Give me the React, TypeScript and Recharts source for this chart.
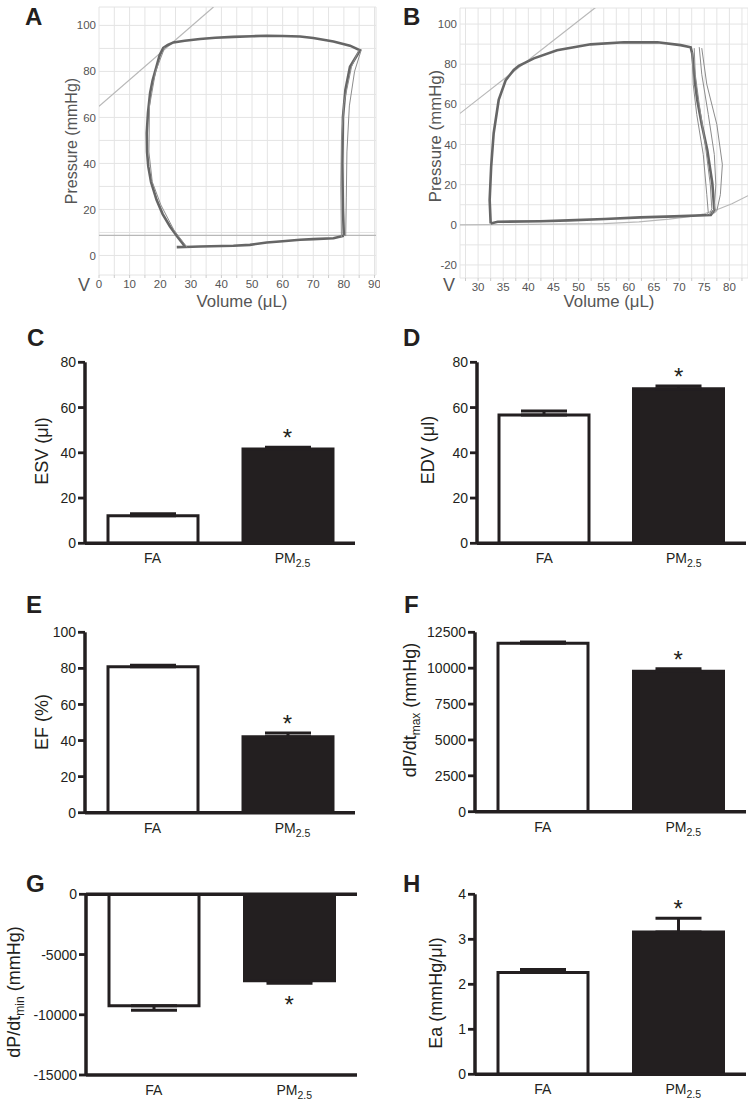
import React from "react";
import {
    BarChart,
    Bar,
    Cell,
    XAxis,
    YAxis,
    ErrorBar,
    ReferenceDot,
    ReferenceLine,
    ScatterChart,
    Scatter,
    CartesianGrid,
} from "recharts";

const INK = "#231f20";
const FONT = '"Liberation Sans", Arial, sans-serif';

// groups shared by all bar panels
const groups = ["FA", "PM2.5"];
const significant = [false, true];

// bar panels: mean and SEM per group
const esvMean = [12.2, 41.7];
const esvSem = [0.9, 0.7];
const edvMean = [56.7, 68.3];
const edvSem = [1.8, 1.2];
const efMean = [80.9, 42.1];
const efSem = [0.8, 2.1];
const dpMaxMean = [11733, 9783];
const dpMaxSem = [91, 181];
const dpMinMean = [-9247, -7172];
const dpMinSem = [383, 216];
const eaMean = [2.26, 3.16];
const eaSem = [0.07, 0.31];

// tick labels
const esvTicks = [0, 20, 40, 60, 80];
const efTicks = [0, 20, 40, 60, 80, 100];
const dpMaxTicks = [0, 2500, 5000, 7500, 10000, 12500];
const dpMinTicks = [-15000, -10000, -5000, 0];
const eaTicks = [0, 1, 2, 3, 4];

const pvATicksX = [0, 5, 10, 15, 20, 25, 30, 35, 40, 45, 50, 55, 60, 65, 70, 75, 80, 85, 90];
const pvATicksY = [0, 10, 20, 30, 40, 50, 60, 70, 80, 90, 100];
const pvBTicksX = [27.5, 30, 32.5, 35, 37.5, 40, 42.5, 45, 47.5, 50, 52.5, 55, 57.5, 60, 62.5, 65, 67.5, 70, 72.5, 75, 77.5, 80, 82.5];
const pvBTicksY = [-20, -10, 0, 10, 20, 30, 40, 50, 60, 70, 80, 90, 100];

// PV loop A (volume uL, pressure mmHg)
const loopA: number[][] = [
    [80, 8.6], [79.7, 20], [79.5, 40], [79.7, 60], [80.5, 72], [82, 82], [85.3, 89.2],
    [82, 91.2], [76.6, 93], [70, 94.5], [65.7, 95.2], [60, 95.4], [54.8, 95.5], [50, 95.3],
    [43.9, 95], [38, 94.6], [33, 94.1], [28, 93.3], [24.3, 92.6], [22.5, 91.5], [21, 90.2],
    [19.8, 87], [18.8, 82.2], [17.5, 76], [16.7, 70.6], [16, 62], [15.6, 53.2], [15.7, 45],
    [16.1, 38.7], [17, 32], [18.8, 24.2], [20.8, 18], [23.2, 12.6], [25.8, 7.8], [28.1, 3.9],
    [27, 3.7], [25.4, 3.6], [28, 3.7], [33, 3.9], [43.9, 4.2], [49.3, 4.6], [54.8, 5.6],
    [60, 6.2], [65.7, 6.8], [70, 7.1], [76.6, 7.5], [80, 8.6],
];
const loopARight1 = [[80.6, 8.4], [80.8, 25], [81, 45], [81.8, 65], [83.5, 80], [85.6, 89]];
const loopARight2 = [[79.2, 8], [79, 30], [79.2, 50], [80, 66], [82.5, 82], [85, 89.5]];
const loopALeft1 = [[21.5, 90.5], [18.5, 80], [16.5, 65], [16.3, 45], [17.4, 32], [20.2, 22], [24.5, 11], [28.8, 3.5]];
const esPvrA = [[0, 64.8], [37.4, 108]];
const edpA = [[0, 8.7], [90.5, 8.7]];

// PV loop B
const loopB: number[][] = [
    [32.5, 0.7], [32.3, 12.4], [32.6, 29], [33.1, 45.6], [34.1, 62.2], [35.5, 72.1], [37.1, 77.1],
    [38.1, 79.2], [41.1, 82.9], [45.7, 87], [52.4, 89.9], [59, 90.9], [65.7, 90.9], [70.3, 89.5],
    [72.3, 88.4], [72.6, 85.4], [73.2, 70], [73.6, 62.2], [74.5, 50], [75.6, 37.3], [76.6, 20.7],
    [77, 7.4], [76.3, 4.9], [69, 4.2], [62.3, 3.7], [55.2, 2.9], [48, 2.2], [42.4, 1.8],
    [33.9, 1.5], [32.5, 0.7],
];
const loopBRight1 = [[73, 88], [73.2, 75], [74, 60], [75.2, 40], [76.2, 20], [76.5, 8], [76, 5]];
const loopBRight2 = [[74, 88.5], [74.5, 75], [75.8, 55], [77, 35], [77.3, 20], [77, 8], [76.5, 5.5]];
const loopBRight3 = [[74.5, 88], [75.5, 70], [77.5, 50], [78.6, 30], [78.2, 15], [77.5, 7], [76.8, 5.5]];
const loopBRight4 = [[72.6, 86], [72.8, 70], [73.5, 55], [74.8, 35], [75.5, 15], [75.8, 6], [75.5, 4.8]];
const esPvrB = [[26.4, 55.5], [53.4, 108.3]];
const edPvrB = [[26.4, 0], [35, 0.1], [45, 0.3], [55, 0.6], [62, 1.5], [68, 2.8], [72, 4], [75, 5.5], [78, 8], [80.5, 10.5], [83.7, 14.5]];

const toPts = (arr: number[][]) => arr.map(([v, p]) => ({ v, p }));

const buildRows = (means: number[], sems: number[], down = false) =>
    groups.map((g, i) => ({
        group: g,
        mean: means[i],
        err: down ? [sems[i], 0] : [0, sems[i]],
    }));

const noDot = () => <g />;

function GroupTick(props: any) {
    const { x, y, payload } = props;
    if (payload.value === "PM2.5") {
        return (
            <text x={x} y={y + 20} dx={5} textAnchor="middle" fill={INK} fontSize={14} fontFamily={FONT}>
                PM
                <tspan fontSize={10.5} dy={4}>2.5</tspan>
            </text>
        );
    }
    return (
        <text x={x} y={y + 20} textAnchor="middle" fill={INK} fontSize={14} fontFamily={FONT}>
            {payload.value}
        </text>
    );
}

// y tick: short thick tick mark plus the number
function ValueTick(props: any) {
    const { x, y, payload } = props;
    return (
        <g>
            <line x1={x - 7} y1={y} x2={x} y2={y} stroke={INK} strokeWidth={2.8} />
            <text x={x - 9} y={y} dy="0.36em" textAnchor="end" fill={INK} fontSize={14} fontFamily={FONT}>
                {payload.value}
            </text>
        </g>
    );
}

function BarPanel(props: any) {
    const { left, top, width, height, mt, mr, yw, xh, domain, ticks, means, sems, down } = props;
    const rows = buildRows(means, sems, down);
    return (
        <div style={{ position: "absolute", left, top }}>
            <BarChart
                width={width}
                height={height}
                data={rows}
                margin={{ top: mt, right: mr, bottom: 0, left: 0 }}
                barSize={90}
            >
                <XAxis
                    dataKey="group"
                    height={xh}
                    axisLine={false}
                    tickLine={false}
                    tickSize={0}
                    tickMargin={0}
                    tick={<GroupTick />}
                    interval={0}
                />
                <YAxis
                    width={yw}
                    type="number"
                    domain={domain}
                    ticks={ticks}
                    allowDataOverflow
                    axisLine={false}
                    tickLine={false}
                    tickSize={0}
                    tickMargin={0}
                    tick={<ValueTick />}
                    interval={0}
                />
                <Bar dataKey="mean" stroke={INK} strokeWidth={3} isAnimationActive={false}>
                    {rows.map((r, i) => (
                        <Cell key={r.group} fill={i === 0 ? "#ffffff" : INK} />
                    ))}
                    <ErrorBar dataKey="err" direction="y" width={23} stroke={INK} strokeWidth={3} />
                </Bar>
                <ReferenceLine y={domain[0]} stroke={INK} strokeWidth={3.5} />
                <ReferenceLine x={groups[0]} position="start" stroke={INK} strokeWidth={3.5} />
                {down && <ReferenceLine y={0} stroke={INK} strokeWidth={3.5} />}
                {groups.map((g, i) =>
                    significant[i] ? (
                        <ReferenceDot
                            key={g}
                            x={g}
                            y={down ? means[i] - sems[i] : means[i] + sems[i]}
                            r={1}
                            shape={(p: any) => (
                                <text
                                    x={p.cx}
                                    y={down ? p.cy + 30 : p.cy - 1}
                                    textAnchor="middle"
                                    fontSize={24}
                                    fontFamily={FONT}
                                    fill={INK}
                                >
                                    *
                                </text>
                            )}
                        />
                    ) : null
                )}
            </BarChart>
        </div>
    );
}

function PvPanel(props: any) {
    const { left, top, width, height, mt, mr, yw, xh, xDomain, yDomain, xTicks, yTicks, xEvery, loops, guides } = props;
    const tickStyle = { fill: "#555", fontSize: 11.5, fontFamily: FONT };
    return (
        <div style={{ position: "absolute", left, top }}>
            <ScatterChart width={width} height={height} margin={{ top: mt, right: mr, bottom: 0, left: 0 }}>
                <CartesianGrid stroke="#e4e4e4" strokeWidth={1} />
                <XAxis
                    type="number"
                    dataKey="v"
                    domain={xDomain}
                    ticks={xTicks}
                    allowDataOverflow
                    height={xh}
                    axisLine={false}
                    tickLine={{ stroke: "#ccc" }}
                    tickSize={3}
                    tickMargin={2}
                    interval={0}
                    tick={tickStyle}
                    tickFormatter={(v: number) => (v % xEvery === 0 ? String(v) : "")}
                />
                <YAxis
                    type="number"
                    dataKey="p"
                    domain={yDomain}
                    ticks={yTicks}
                    allowDataOverflow
                    width={yw}
                    axisLine={false}
                    tickLine={false}
                    tickSize={0}
                    tickMargin={3}
                    interval={0}
                    tick={tickStyle}
                    tickFormatter={(v: number) => (v % 20 === 0 ? String(v) : "")}
                />
                {guides.map((g: number[][], i: number) => (
                    <Scatter
                        key={"g" + i}
                        data={toPts(g)}
                        line={{ stroke: "#b8b8b8", strokeWidth: 1.2 }}
                        shape={noDot}
                        isAnimationActive={false}
                    />
                ))}
                {loops.map((l: number[][], i: number) => (
                    <Scatter
                        key={"l" + i}
                        data={toPts(l)}
                        line={{
                            stroke: i === 0 ? "#666666" : "#8c8c8c",
                            strokeWidth: i === 0 ? 2.6 : 1,
                        }}
                        shape={noDot}
                        isAnimationActive={false}
                    />
                ))}
            </ScatterChart>
        </div>
    );
}

function Labels() {
    const letter = { fontSize: 24, fontWeight: 700, fill: INK, fontFamily: FONT };
    const title = { fontSize: 18, fill: INK, fontFamily: FONT, textAnchor: "middle" as const };
    const pvTitle = { fontSize: 16, fill: "#555", fontFamily: FONT, textAnchor: "middle" as const };
    return (
        <svg
            width={748}
            height={1104}
            style={{ position: "absolute", left: 0, top: 0, pointerEvents: "none" }}
        >
            <text x={25} y={25} {...letter}>A</text>
            <text x={403} y={25} {...letter}>B</text>
            <text x={27} y={346} {...letter}>C</text>
            <text x={403} y={346} {...letter}>D</text>
            <text x={26} y={613} {...letter}>E</text>
            <text x={404} y={613} {...letter}>F</text>
            <text x={26} y={892} {...letter}>G</text>
            <text x={403} y={892} {...letter}>H</text>

            <text x={77} y={141} transform="rotate(-90 77 141)" {...pvTitle}>Pressure (mmHg)</text>
            <text x={441} y={136} transform="rotate(-90 441 136)" {...pvTitle} fontSize={16.8}>Pressure (mmHg)</text>
            <text x={242} y={307} {...pvTitle} fontSize={16.8}>Volume (μL)</text>
            <text x={609} y={307} {...pvTitle} fontSize={16.8}>Volume (μL)</text>
            <text x={84} y={291} {...pvTitle} fontSize={18}>V</text>
            <text x={449} y={291} {...pvTitle} fontSize={18}>V</text>

            <text x={48} y={451} transform="rotate(-90 48 451)" {...title}>ESV (μl)</text>
            <text x={434} y={450} transform="rotate(-90 434 450)" {...title}>EDV (μl)</text>
            <text x={48} y={722} transform="rotate(-90 48 722)" {...title}>EF (%)</text>
            <text x={416} y={710} transform="rotate(-90 416 710)" {...title}>
                dP/dt<tspan fontSize={12} dy={4}>max</tspan>
                <tspan dy={-4}> (mmHg)</tspan>
            </text>
            <text x={20} y={992} transform="rotate(-90 20 992)" {...title}>
                dP/dt<tspan fontSize={12} dy={4}>min</tspan>
                <tspan dy={-4}> (mmHg)</tspan>
            </text>
            <text x={442} y={993} transform="rotate(-90 442 993)" {...title}>Ea (mmHg/μl)</text>
        </svg>
    );
}

export default function App() {
    return (
        <div
            style={{
                position: "absolute",
                left: 0,
                top: 0,
                width: 748,
                height: 1104,
                background: "#ffffff",
                fontFamily: FONT,
                overflow: "hidden",
            }}
        >
            <PvPanel
                left={0}
                top={0}
                width={380}
                height={300}
                mt={7}
                mr={4}
                yw={99}
                xh={25}
                xDomain={[0, 90.5]}
                yDomain={[-8.5, 108]}
                xTicks={pvATicksX}
                yTicks={pvATicksY}
                xEvery={10}
                guides={[esPvrA, edpA]}
                loops={[loopA, loopARight1, loopARight2, loopALeft1]}
            />
            <PvPanel
                left={374}
                top={0}
                width={374}
                height={300}
                mt={8}
                mr={0}
                yw={86}
                xh={22}
                xDomain={[26.4, 83.7]}
                yDomain={[-26.5, 108]}
                xTicks={pvBTicksX}
                yTicks={pvBTicksY}
                xEvery={5}
                guides={[esPvrB, edPvrB]}
                loops={[loopB, loopBRight1, loopBRight2, loopBRight3, loopBRight4]}
            />
            <BarPanel left={0} top={300} width={374} height={270} mt={62.3} mr={19} yw={85} xh={26.7}
                domain={[0, 80]} ticks={esvTicks} means={esvMean} sems={esvSem} />
            <BarPanel left={374} top={300} width={374} height={270} mt={62.3} mr={2} yw={103} xh={26.7}
                domain={[0, 80]} ticks={esvTicks} means={edvMean} sems={edvSem} />
            <BarPanel left={0} top={570} width={374} height={280} mt={62.3} mr={19} yw={85} xh={37.3}
                domain={[0, 100]} ticks={efTicks} means={efMean} sems={efSem} />
            <BarPanel left={374} top={570} width={374} height={280} mt={62.3} mr={2} yw={101} xh={38.3}
                domain={[0, 12500]} ticks={dpMaxTicks} means={dpMaxMean} sems={dpMaxSem} />
            <BarPanel left={0} top={850} width={374} height={254} mt={44.3} mr={17} yw={86} xh={29}
                domain={[-15000, 0]} ticks={dpMinTicks} means={dpMinMean} sems={dpMinSem} down />
            <BarPanel left={374} top={850} width={374} height={254} mt={44.3} mr={2} yw={101} xh={29.7}
                domain={[0, 4]} ticks={eaTicks} means={eaMean} sems={eaSem} />
            <Labels />
        </div>
    );
}
